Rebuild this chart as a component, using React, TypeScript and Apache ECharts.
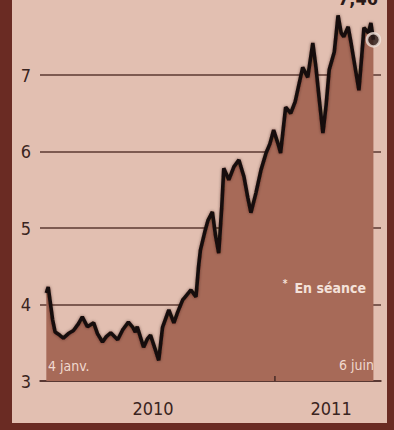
import React, { useEffect, useRef } from 'react';
import * as echarts from 'echarts';

const dates = [
  '2010-01-04', '2010-01-07', '2010-01-14', '2010-01-18', '2010-01-25', '2010-01-31',
  '2010-02-08', '2010-02-16', '2010-02-24', '2010-03-02', '2010-03-10', '2010-03-20',
  '2010-03-26', '2010-04-03', '2010-04-09', '2010-04-16', '2010-04-27', '2010-05-05',
  '2010-05-14', '2010-05-21', '2010-05-25', '2010-05-28', '2010-06-07', '2010-06-13',
  '2010-06-18', '2010-06-26', '2010-07-01', '2010-07-07', '2010-07-17', '2010-07-25',
  '2010-07-31', '2010-08-08', '2010-08-14', '2010-08-21', '2010-08-29', '2010-09-02',
  '2010-09-05', '2010-09-12', '2010-09-17', '2010-09-24', '2010-09-29', '2010-10-04',
  '2010-10-09', '2010-10-12', '2010-10-20', '2010-10-28', '2010-11-05', '2010-11-13',
  '2010-11-19', '2010-11-24', '2010-12-02', '2010-12-10', '2010-12-18', '2010-12-24',
  '2010-12-30', '2011-01-06', '2011-01-10', '2011-01-18', '2011-01-26', '2011-02-02',
  '2011-02-06', '2011-02-14', '2011-02-22', '2011-03-02', '2011-03-07', '2011-03-12',
  '2011-03-18', '2011-03-23', '2011-03-28', '2011-04-05', '2011-04-11', '2011-04-16',
  '2011-04-20', '2011-04-27', '2011-05-02', '2011-05-06', '2011-05-14', '2011-05-19',
  '2011-05-22', '2011-05-29', '2011-06-02', '2011-06-06',
];

const values = [
  4.15, 4.23, 3.8, 3.64, 3.6, 3.56,
  3.62, 3.66, 3.75, 3.84, 3.71, 3.76,
  3.62, 3.51, 3.58, 3.63, 3.54, 3.67,
  3.77, 3.7, 3.64, 3.71, 3.44, 3.55,
  3.6, 3.4, 3.27, 3.7, 3.93, 3.76,
  3.9, 4.06, 4.12, 4.19, 4.1, 4.49,
  4.71, 4.95, 5.1, 5.21, 4.9, 4.67,
  5.3, 5.78, 5.63, 5.8, 5.89, 5.67,
  5.4, 5.2, 5.46, 5.76, 5.98, 6.1,
  6.28, 6.1, 5.98, 6.58, 6.5, 6.65,
  6.8, 7.1, 6.97, 7.42, 7.1, 6.7,
  6.24, 6.6, 7.07, 7.3, 7.78, 7.55,
  7.5, 7.63, 7.4, 7.2, 6.8, 7.3,
  7.62, 7.55, 7.68, 7.46,
];

const yMin = 3;
const yMax = 7.85;
const yInterval = 1;
const xMin = '2009-12-25';
const xMax = '2011-06-18';
const yearLabels = ['2010', '2011'];
const yearLabelAnchors = ['2010-06-22', '2011-03-31'];
const yearBoundary = '2011-01-01';
const lastValueLabel = '7,46';
const startLabel = '4 janv.';
const endLabel = '6 juin';
const noteLabel = 'En séance';

const FONT = "'Liberation Sans Narrow', 'DejaVu Sans Condensed', 'Open Sans', sans-serif";
const GRID_C = '#5b3832';
const ts = (d: string) => new Date(d + 'T00:00:00').getTime();

export default function App() {
  const ref = useRef<HTMLDivElement>(null);
  useEffect(() => {
    document.body.style.margin = '0';
    const chart = echarts.init(ref.current!, undefined, { renderer: 'svg' });
    const data = dates.map((d, i) => [ts(d), values[i]]);
    chart.setOption({
      animation: false,
      backgroundColor: '#e2bfb1',
      grid: { left: 40, right: 13, top: 10, bottom: 49, containLabel: false },
      xAxis: {
        type: 'time',
        min: ts(xMin),
        max: ts(xMax),
        axisLabel: { show: false },
        axisTick: { show: false },
        splitLine: { show: false },
        axisLine: { show: true, lineStyle: { color: '#4d2e2a', width: 1.6 } },
      },
      yAxis: {
        type: 'value',
        min: yMin,
        max: yMax,
        interval: yInterval,
        axisLine: { show: false },
        axisTick: { show: false },
        axisLabel: {
          color: '#3a2420',
          fontSize: 18,
          fontFamily: FONT,
          margin: 9,
          showMaxLabel: false,
        },
        splitLine: {
          show: true,
          lineStyle: {
            color: [GRID_C, GRID_C, GRID_C, GRID_C, GRID_C, 'rgba(0,0,0,0)'],
            width: 1.6,
          },
        },
      },
      series: [
        {
          type: 'line',
          data,
          showSymbol: false,
          lineStyle: {
            color: '#160d0b',
            width: 3.6,
            shadowBlur: 3,
            shadowColor: 'rgba(40,10,5,0.5)',
          },
          areaStyle: { color: '#a76a58', opacity: 1, origin: 'start' },
          z: 2,
        },
        {
          type: 'scatter',
          data: [data[data.length - 1]],
          symbol: 'circle',
          symbolSize: 13,
          itemStyle: { color: '#2a1a18', borderColor: '#f2e4dc', borderWidth: 2.5 },
          z: 5,
        },
      ],
    });

    const px = (d: string, v: number) =>
      chart.convertToPixel({ gridIndex: 0 }, [ts(d), v]) as number[];
    const tick = px(yearBoundary, yMin);
    const graphics: any[] = [
      { type: 'rect', shape: { x: 0, y: 0, width: 12, height: 430 }, style: { fill: '#6a2b23' }, z: 100 },
      { type: 'rect', shape: { x: 387, y: 0, width: 7, height: 430 }, style: { fill: '#6a2b23' }, z: 100 },
      { type: 'rect', shape: { x: 0, y: 423, width: 394, height: 7 }, style: { fill: '#6a2b23' }, z: 100 },
      {
        type: 'line',
        shape: { x1: tick[0], y1: tick[1] - 5, x2: tick[0], y2: tick[1] },
        style: { stroke: '#4d2e2a', lineWidth: 1.6 },
        z: 50,
      },
      {
        type: 'text',
        x: 48, y: 366,
        style: { text: startLabel, fill: '#f0d9cf', fontSize: 14, fontFamily: FONT, textVerticalAlign: 'middle' },
        z: 50,
      },
      {
        type: 'text',
        x: 374, y: 365,
        style: { text: endLabel, fill: '#f0d9cf', fontSize: 14, fontFamily: FONT, textAlign: 'right', textVerticalAlign: 'middle' },
        z: 50,
      },
      {
        type: 'text',
        x: 366, y: 288,
        style: { text: noteLabel, fill: '#f4e2da', fontSize: 14, fontWeight: 'bold', fontFamily: FONT, textAlign: 'right', textVerticalAlign: 'middle' },
        z: 50,
      },
      {
        type: 'text',
        x: 285, y: 283,
        style: { text: '*', fill: '#f4e2da', fontSize: 10, fontWeight: 'bold', fontFamily: FONT, textAlign: 'center', textVerticalAlign: 'middle' },
        z: 50,
      },
      {
        type: 'text',
        x: 358, y: 7,
        style: { text: lastValueLabel, fill: '#2a1a18', fontSize: 18, fontWeight: 'bold', fontFamily: FONT, textAlign: 'center', textVerticalAlign: 'bottom' },
        z: 50,
      },
    ];
    yearLabels.forEach((label, i) => {
      const p = px(yearLabelAnchors[i], yMin);
      graphics.push({
        type: 'text',
        x: p[0], y: 408,
        style: { text: label, fill: '#3a2420', fontSize: 18, fontFamily: FONT, textAlign: 'center', textVerticalAlign: 'middle' },
        z: 50,
      });
    });
    chart.setOption({ graphic: graphics });
    return () => chart.dispose();
  }, []);
  return <div ref={ref} style={{ width: 394, height: 430 }} />;
}
